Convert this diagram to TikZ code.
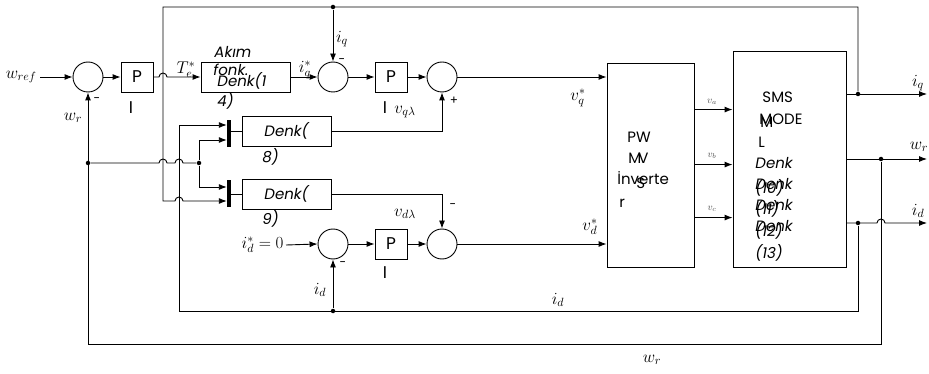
\RequirePackage{fix-cm}
\documentclass[tikz,border=0pt]{standalone}
\usepackage{fontspec}
\setmainfont{Poppins}
\usetikzlibrary{arrows.meta,calc}
\begin{document}
\begin{tikzpicture}[x=1pt,y=-1pt,
  line width=0.9pt,
  >={Latex[length=8pt,width=6pt]},
  sumnode/.style={draw,circle,minimum size=30pt,inner sep=0},
  blk/.style={draw,rectangle,inner sep=0},
  denkbox/.style={blk,minimum width=89pt,minimum height=30pt,font=\fontsize{15}{15}\selectfont\itshape},
  pibox/.style={blk,minimum width=32pt,minimum height=30pt,font=\fontsize{17}{17}\selectfont},
  bar/.style={fill=black,draw=none,minimum width=3.5pt,minimum height=27pt,inner sep=0},
  dot/.style={circle,fill=black,inner sep=0,minimum size=4.5pt},
  lbl/.style={inner sep=0,font=\fontsize{15}{15}\selectfont},
  ilbl/.style={inner sep=0,font=\fontsize{15}{15}\selectfont\itshape},
  plbl/.style={inner sep=0,font=\fontsize{17}{17}\selectfont},
  ml/.style={inner sep=0,font=\fontsize{17}{17}\selectfont},
  sml/.style={inner sep=0,font=\fontsize{10}{10}\selectfont,text=black!70},
  sgn/.style={inner sep=0,font=\fontsize{12}{12}\selectfont},
]
\useasboundingbox (0,0) rectangle (929,374);

% blocks
\node[sumnode] (s1) at (88,77) {};
\node[pibox] (pi1) at (137,77) {P};
\node[blk,minimum width=89pt,minimum height=30pt] (ak) at (245.5,77) {};
\node[sumnode] (s2) at (333,77) {};
\node[pibox] (pi2) at (391,77) {P};
\node[sumnode] (s3) at (442,77) {};
\node[denkbox] (d8) at (286.5,131) {Denk(};
\node[denkbox] (d9) at (286.5,194) {Denk(};
\node[bar] (b8) at (229,134) {};
\node[bar] (b9) at (229,194) {};
\node[sumnode] (s5) at (333,244) {};
\node[pibox] (pi3) at (391,244) {P};
\node[sumnode] (s4) at (442,244) {};
\node[blk,minimum width=87pt,minimum height=204pt] (pwm) at (650.5,165) {};
\node[blk,minimum width=113pt,minimum height=216pt] (sms) at (789.5,159) {};

% block texts
\node[plbl] (i1) at (131,108) {I};
\node[plbl] (i2) at (385,108) {I};
\node[plbl] (i3) at (385,273) {I};
\node[ilbl,anchor=west] (t1) at (214,52) {Akım};
\node[ilbl,anchor=west] (t2) at (213,70) {fonk.};
\node[ilbl,anchor=west] (t3) at (217,81) {Denk(1};
\node[ilbl,anchor=west] (t4) at (217,101) {4)};
\node[ilbl,anchor=west] (t8) at (262,157) {8)};
\node[ilbl,anchor=west] (t9) at (262,219) {9)};
\node[lbl,anchor=west] (p1) at (627,137) {PW};
\node[lbl,anchor=west] (p2) at (628,158) {M};
\node[lbl,anchor=west] (p2b) at (638,158) {V};
\node[lbl,anchor=west] (p3) at (617,178) {İnverte};
\node[lbl,anchor=west] (p3b) at (636,183) {S};
\node[lbl,anchor=west] (p4) at (619,203) {r};
\node[lbl,anchor=west] (m1) at (762,97) {SMS};
\node[lbl,anchor=west] (m2) at (759,119) {MODE};
\node[lbl,anchor=west] (m2b) at (760,122) {M};
\node[lbl,anchor=west] (m3) at (758,142) {L};
\node[ilbl,anchor=west] (m4) at (755,163) {Denk};
\node[ilbl,anchor=west] (m5) at (755,184) {Denk};
\node[ilbl,anchor=west] (m5b) at (755,188) {(10)};
\node[ilbl,anchor=west] (m6) at (755,205) {Denk};
\node[ilbl,anchor=west] (m6b) at (755,209) {(11)};
\node[ilbl,anchor=west] (m7) at (755,226) {Denk};
\node[ilbl,anchor=west] (m7b) at (755,231) {(12)};
\node[ilbl,anchor=west] (m8) at (755,253) {(13)};

% signal labels
\node[ml,anchor=east] (wref) at (37,77) {$w_{ref}$};
\node[ml] (lte) at (186,70) {$T_e^*$};
\node[ml] (liqs) at (305,70) {$i_q^*$};
\node[ml] (liq) at (342,39) {$i_q$};
\node[ml] (lvql) at (405,112) {$v_{q\lambda}$};
\node[ml] (lvqs) at (578,98) {$v_q^*$};
\node[ml] (lvdl) at (405,214) {$v_{d\lambda}$};
\node[ml] (lvds) at (590,227) {$v_d^*$};
\node[ml,anchor=east] (idref) at (284,245) {$i_d^*=0$};
\node[ml] (lid1) at (320,290) {$i_d$};
\node[ml] (lid2) at (558,300) {$i_d$};
\node[ml] (lwr1) at (73,118) {$w_r$};
\node[ml] (lwr2) at (652,360) {$w_r$};
\node[ml] (liqo) at (918,83) {$i_q$};
\node[ml] (lwro) at (919,147) {$w_r$};
\node[ml] (lido) at (918,211) {$i_d$};
\node[sml] (lva) at (712,102) {$v_a$};
\node[sml] (lvb) at (712,156) {$v_b$};
\node[sml] (lvc) at (712,209) {$v_c$};
\node[sgn] (g1) at (97,100) {-};
\node[sgn] (g2) at (342,61) {-};
\node[sgn] (g3) at (454,101) {+};
\node[sgn] (g4) at (453,206) {-};
\node[sgn] (g5) at (343,264) {-};

% junctions
\node[dot] (jq2) at (333,7) {};
\node[dot] (jq) at (858,94) {};
\node[dot] (jw) at (881,159) {};
\node[dot] (jd) at (858,223) {};
\node[dot] (jw1) at (88,163) {};
\node[dot] (jw2) at (199,163) {};
\node[dot] (jd5) at (333,311) {};
\coordinate (tl) at (163,7);
\coordinate (tr) at (858,7);
\coordinate (iq9) at (163,201);
\coordinate (wbr) at (881,344);
\coordinate (wbl) at (88,344);
\coordinate (ld) at (179,311);
\coordinate (jdb) at (858,311);
\coordinate (iqout) at (927,94);
\coordinate (wout) at (927,159);
\coordinate (idout) at (927,223);
\path (pwm.north east) ++(0,47) coordinate (va) ++(0,55) coordinate (vb) ++(0,53) coordinate (vc);

% forward path q
\draw[->] (wref.east) ++(3,0) -- (s1.west);
\draw[->] (s1) -- (pi1);
\draw[->] (pi1.east) -- (159,77) arc[start angle=180,end angle=360,radius=4] -- (ak.west);
\draw[->] (ak) -- (s2);
\draw[->] (s2) -- (pi2);
\draw[->] (pi2) -- (s3);
\draw[->] (s3.east) -- (s3.east -| pwm.west);
\draw[->] (d8.east) -| (s3.south);
\draw (b8.east |- d8.west) -- (d8.west);
\draw (b9) -- (d9);

% forward path d
\draw[->] (idref.east) ++(2,0) -- (s5.west);
\draw[->] (s5) -- (pi3);
\draw[->] (pi3) -- (s4);
\draw[->] (s4.east) -- (s4.east -| pwm.west);
\draw[->] (d9.east) -| (s4.north);

% inverter to machine
\draw[->] (va) -- (va -| sms.west);
\draw[->] (vb) -- (vb -| sms.west);
\draw[->] (vc) -- (vc -| sms.west);

% outputs
\draw[->] (sms.east |- jq) -- (iqout);
\draw[->] (sms.east |- jw) -- (wout);
\draw[->] (sms.east |- jd) -- (877,223) arc[start angle=180,end angle=360,radius=4] -- (idout);

% i_q feedback
\draw[->] (jq) -- (tr) -- (tl) -- (iq9) -- (175,201) arc[start angle=180,end angle=360,radius=4] -- ($(b9.west)+(0,7)$);
\draw[->] (jq2) -- (s2.north);

% w_r feedback
\draw[->] (jw) -- (wbr) -- (wbl) -- (s1.south);
\draw (jw1) -- (159,163) arc[start angle=180,end angle=360,radius=4] -- (175,163) arc[start angle=180,end angle=360,radius=4] -- (jw2);
\draw[->] (jw2) |- ($(b8.west)+(0,6)$);
\draw[->] (jw2) |- ($(b9.west)+(0,-7)$);

% i_d feedback
\draw[->] (jd) -- (jdb) -- (ld) |- ($(b8.west)+(0,-9)$);
\draw[->] (jd5) -- (s5.south);
\end{tikzpicture}
\end{document}
